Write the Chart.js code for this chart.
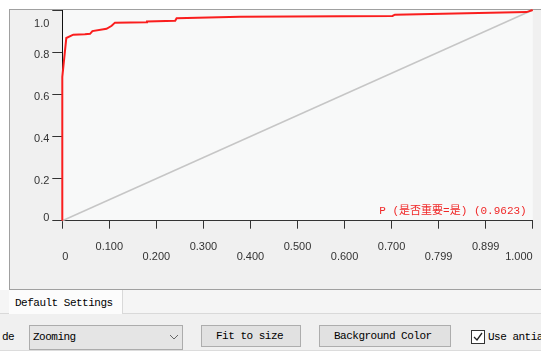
<!DOCTYPE html>
<html>
<head>
<meta charset="utf-8">
<script src="https://cdn.jsdelivr.net/npm/chart.js@4.4.1/dist/chart.umd.min.js"></script>
<style>
  html, body { margin: 0; padding: 0; }
  body { width: 541px; height: 355px; position: relative; overflow: hidden; background: #ffffff; font-family: "Liberation Mono", "DejaVu Sans Mono", monospace; }
  #panel { position: absolute; left: 9px; top: 9px; width: 540px; height: 279px; background: #f0f0f0; border-left: 1px solid #a0a0a0; border-top: 1px solid #a0a0a0; border-bottom: 1px solid #a0a0a0; }
  #chartWrap { position: absolute; left: 0; top: 0; width: 541px; height: 289px; z-index: 2; }
  #tabRow { position: absolute; left: 0; top: 290px; width: 541px; height: 23px; background: #f5f5f5; border-bottom: 1px solid #d9d9d9; }
  #tab { position: absolute; left: 9px; top: 290px; width: 113px; height: 24px; background: #fcfcfc; border-right: 1px solid #d9d9d9; z-index: 3; }
  .txt { position: absolute; font-size: 11px; letter-spacing: -0.5px; color: #000; white-space: nowrap; line-height: 14px; }
  #bottomRow { position: absolute; left: 0; top: 314px; width: 541px; height: 36px; background: #f0f0f0; border-bottom: 1px solid #dcdcdc; }
  #combo { position: absolute; left: 29px; top: 325px; width: 152px; height: 23px; background: #e5e5e5; border: 1px solid #acacac; }
  .btn { position: absolute; top: 325px; height: 20px; background: #e1e1e1; border: 1px solid #adadad; }
  #chk { position: absolute; left: 471px; top: 330px; width: 12px; height: 12px; background: #fff; border: 1px solid #333; }
</style>
</head>
<body>
<div id="panel"></div>
<div id="chartWrap"><canvas id="roc" width="541" height="289"></canvas></div>
<div id="tabRow"></div>
<div id="tab"></div>
<div class="txt" style="left:15px; top:296px; z-index:4;">Default Settings</div>
<div id="bottomRow"></div>
<div class="txt" style="left:2px; top:330px;">de</div>
<div id="combo"></div>
<div class="txt" style="left:33px; top:330px;">Zooming</div>
<svg style="position:absolute; left:169px; top:333px;" width="10" height="8"><polyline points="1,2 5,6 9,2" fill="none" stroke="#666" stroke-width="1"/></svg>
<div class="btn" style="left:201px; width:98px;"></div>
<div class="txt" style="left:216px; top:329px;">Fit to size</div>
<div class="btn" style="left:319px; width:130px;"></div>
<div class="txt" style="left:334px; top:329px;">Background Color</div>
<div id="chk"><svg width="12" height="12" style="position:absolute;left:0;top:0"><polyline points="2,6 5,9 10,2" fill="none" stroke="#222" stroke-width="1.3"/></svg></div>
<div class="txt" style="left:488px; top:330px;">Use antialiasing</div>
<script>
// ROC curve (false positive rate, true positive rate)
const fprValues = [0, 0, 0.0085, 0.0234, 0.048, 0.059, 0.064, 0.094, 0.105, 0.112, 0.179, 0.180, 0.240, 0.243, 0.378, 0.702, 0.707, 0.987, 1.0];
const tprValues = [0, 0.683, 0.867, 0.883, 0.885, 0.887, 0.900, 0.911, 0.925, 0.940, 0.942, 0.946, 0.949, 0.961, 0.968, 0.972, 0.978, 0.990, 1.0];
const diagonalX = [0, 1];
const diagonalY = [0, 1];
const seriesLabel = 'P (是否重要=是) (0.9623)';
const xTickValues = [0, 0.1, 0.2, 0.3, 0.4, 0.5, 0.6, 0.7, 0.8, 0.9, 1.0];
const xTickLabels = ['0', '0.100', '0.200', '0.300', '0.400', '0.500', '0.600', '0.700', '0.799', '0.899', '1.000'];
const yTickValues = [0, 0.2, 0.4, 0.6, 0.8, 1.0];
const yTickLabels = ['0', '0.2', '0.4', '0.6', '0.8', '1.0'];

const rocPoints = fprValues.map((x, i) => ({ x: x, y: tprValues[i] }));
const diagPoints = diagonalX.map((x, i) => ({ x: x, y: diagonalY[i] }));

const plotBg = {
  id: 'plotBg',
  beforeDraw(chart) {
    const { ctx, chartArea: a } = chart;
    ctx.save();
    ctx.fillStyle = '#f8f9f9';
    ctx.fillRect(a.left, a.top, a.right - a.left, a.bottom - a.top);
    ctx.restore();
  }
};
const seriesCaption = {
  id: 'seriesCaption',
  afterDraw(chart) {
    const { ctx, chartArea: a } = chart;
    const ds = chart.data.datasets[0];
    ctx.save();
    ctx.font = '11px "Liberation Mono", "Noto Sans CJK SC", monospace';
    ctx.fillStyle = '#f02828';
    ctx.textAlign = 'right';
    ctx.textBaseline = 'middle';
    ctx.fillText(ds.label, a.right - 6, a.bottom - 10);
    ctx.restore();
  }
};

new Chart(document.getElementById('roc'), {
  type: 'scatter',
  data: {
    datasets: [
      { label: seriesLabel, data: rocPoints, showLine: true, borderColor: 'rgb(250,30,30)', borderWidth: 2, pointRadius: 0, tension: 0, clip: 4, order: 0 },
      { label: 'diagonal', data: diagPoints, showLine: true, borderColor: '#c6c6c6', borderWidth: 1.5, pointRadius: 0, tension: 0, clip: 4, order: 1 }
    ]
  },
  options: {
    responsive: false,
    animation: false,
    devicePixelRatio: 1,
    layout: { padding: { top: 10, right: 8.3, bottom: 0, left: 0 } },
    plugins: { legend: { display: false }, tooltip: { enabled: false } },
    scales: {
      x: {
        type: 'linear', min: 0, max: 1,
        afterBuildTicks: (s) => { s.ticks = xTickValues.map(v => ({ value: v })); },
        afterFit: (s) => { s.height = 68.3; s.paddingLeft = 0; s.paddingRight = 0; },
        grid: { drawOnChartArea: false, drawTicks: true, tickLength: 8, tickColor: '#333', tickWidth: 1 },
        border: { display: true, color: '#333', width: 1 },
        ticks: {
          autoSkip: false, maxRotation: 0, minRotation: 0, align: 'inner', padding: 12.8,
          color: '#333', font: { family: '"Liberation Sans", Arial, sans-serif', size: 11, lineHeight: 0.95 },
          callback: (v, i) => (i % 2 === 1 ? [xTickLabels[i], ''] : ['', xTickLabels[i]])
        }
      },
      y: {
        type: 'linear', min: 0, max: 1,
        afterBuildTicks: (s) => { s.ticks = yTickValues.map(v => ({ value: v })); },
        afterFit: (s) => { s.width = 62.3; s.paddingTop = 0; s.paddingBottom = 0; },
        grid: { drawOnChartArea: false, drawTicks: true, tickLength: 10, tickColor: '#333', tickWidth: 1 },
        border: { display: true, color: '#111', width: 1 },
        ticks: {
          autoSkip: false, padding: 3, labelOffset: 2.5,
          color: '#333', font: { family: '"Liberation Sans", Arial, sans-serif', size: 11, lineHeight: 1 },
          callback: (v, i) => {
            const t = yTickLabels[i];
            if (i === yTickLabels.length - 1) return ['', '', t];
            if (i === 0) return [t, ''];
            return t;
          }
        }
      }
    }
  },
  plugins: [plotBg, seriesCaption]
});
</script>
</body>
</html>
